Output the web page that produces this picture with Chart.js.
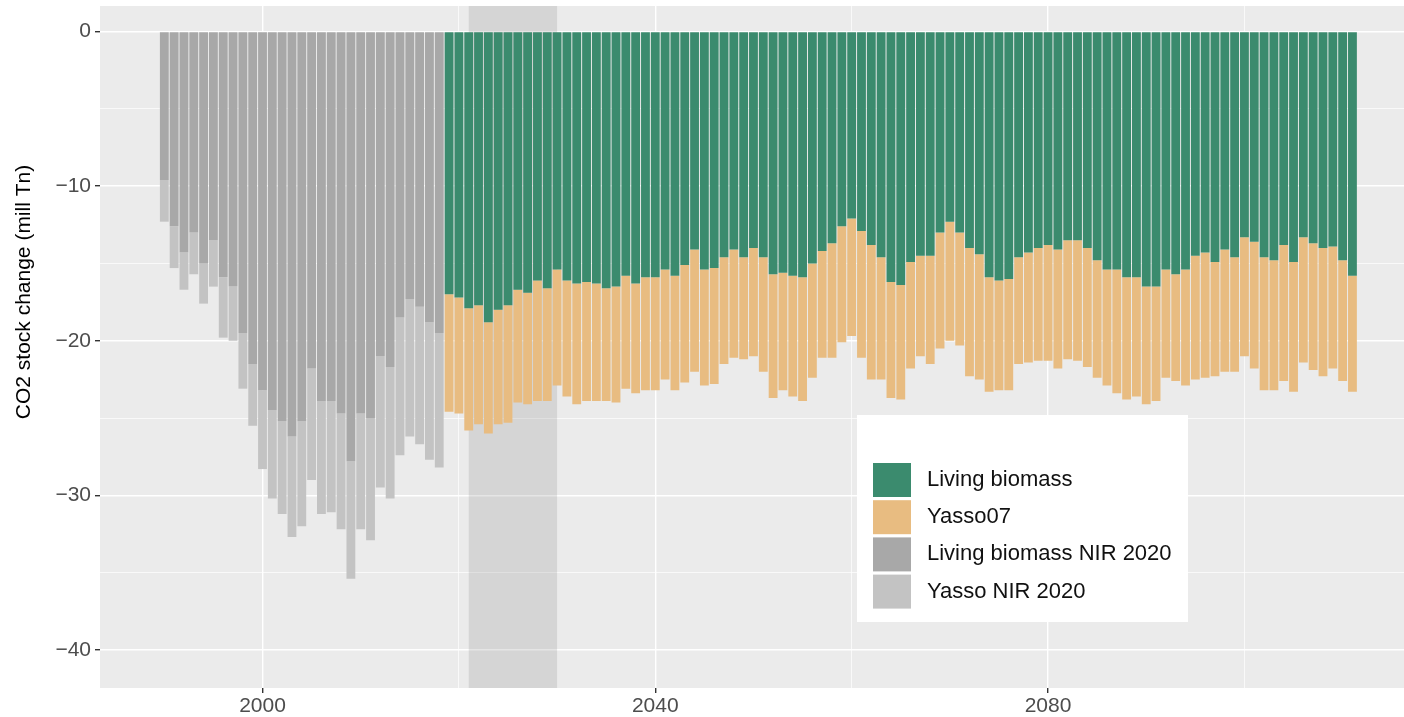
<!DOCTYPE html>
<html>
<head>
<meta charset="utf-8">
<title>CO2 stock change</title>
<script src="https://cdn.jsdelivr.net/npm/chart.js@4.4.1/dist/chart.umd.min.js"></script>
<style>
  html, body { margin: 0; padding: 0; background: #fff; overflow: hidden; }
  #wrap { position: relative; width: 1404px; height: 717px; }
</style>
</head>
<body>
<div id="wrap"><canvas id="chart" width="1404" height="717"></canvas></div>
<script>
// --- data (mill Tn CO2) ---
const nirYears = [1990,1991,1992,1993,1994,1995,1996,1997,1998,1999,
  2000,2001,2002,2003,2004,2005,2006,2007,2008,2009,
  2010,2011,2012,2013,2014,2015,2016,2017,2018];
const nirLivingBiomass = [-9.6,-12.6,-14.3,-13.0,-15.0,-13.5,-15.9,-16.5,-19.5,-21.5,
  -23.2,-24.5,-25.2,-26.2,-25.2,-21.8,-23.9,-23.9,-24.7,-27.8,
  -24.7,-25.0,-21.0,-21.7,-18.5,-17.3,-17.8,-18.8,-19.5];
const nirYasso = [-2.7,-2.7,-2.4,-2.7,-2.6,-3.0,-3.9,-3.5,-3.6,-4.0,
  -5.1,-5.7,-6.0,-6.5,-6.8,-7.2,-7.3,-7.2,-7.5,-7.6,
  -7.5,-7.9,-8.5,-8.5,-8.9,-8.9,-8.9,-8.9,-8.7];

const projYears = [2019,2020,2021,2022,2023,2024,2025,2026,2027,2028,
  2029,2030,2031,2032,2033,2034,2035,2036,2037,2038,
  2039,2040,2041,2042,2043,2044,2045,2046,2047,2048,
  2049,2050,2051,2052,2053,2054,2055,2056,2057,2058,
  2059,2060,2061,2062,2063,2064,2065,2066,2067,2068,
  2069,2070,2071,2072,2073,2074,2075,2076,2077,2078,
  2079,2080,2081,2082,2083,2084,2085,2086,2087,2088,
  2089,2090,2091,2092,2093,2094,2095,2096,2097,2098,
  2099,2100,2101,2102,2103,2104,2105,2106,2107,2108,
  2109,2110,2111];
const livingBiomass = [-17.0,-17.2,-17.9,-17.7,-18.8,-18.0,-17.7,-16.7,-16.9,-16.1,
  -16.6,-15.4,-16.1,-16.3,-16.2,-16.3,-16.6,-16.5,-15.8,-16.3,
  -15.9,-15.9,-15.4,-15.8,-15.1,-14.1,-15.4,-15.3,-14.6,-14.1,
  -14.6,-14.0,-14.6,-15.7,-15.6,-15.8,-15.9,-15.0,-14.2,-13.7,
  -12.6,-12.1,-12.9,-13.8,-14.6,-16.2,-16.4,-14.9,-14.5,-14.5,
  -13.0,-12.3,-13.0,-14.0,-14.4,-15.9,-16.1,-16.0,-14.6,-14.3,
  -14.0,-13.8,-14.1,-13.5,-13.5,-14.0,-14.8,-15.4,-15.4,-15.9,
  -15.9,-16.5,-16.5,-15.4,-15.7,-15.4,-14.5,-14.3,-14.9,-14.1,
  -14.6,-13.3,-13.6,-14.6,-14.8,-13.8,-14.9,-13.3,-13.7,-14.0,
  -13.9,-14.8,-15.8];
const yasso07 = [-7.6,-7.5,-7.9,-7.7,-7.2,-7.4,-7.6,-7.3,-7.2,-7.8,
  -7.3,-7.5,-7.5,-7.8,-7.7,-7.6,-7.3,-7.5,-7.3,-7.1,
  -7.3,-7.3,-7.1,-7.4,-7.6,-7.9,-7.5,-7.5,-6.9,-7.0,
  -6.6,-7.0,-7.4,-8.0,-7.6,-7.8,-8.0,-7.4,-6.9,-7.4,
  -7.5,-7.6,-8.2,-8.7,-7.9,-7.5,-7.4,-6.9,-6.5,-7.0,
  -7.5,-7.7,-7.3,-8.3,-8.1,-7.4,-7.1,-7.2,-6.9,-7.1,
  -7.3,-7.5,-7.7,-7.7,-7.8,-7.7,-7.6,-7.5,-8.0,-7.9,
  -7.7,-7.6,-7.4,-7.0,-6.9,-7.5,-8.0,-8.1,-7.4,-7.9,
  -7.4,-7.7,-8.2,-8.6,-8.4,-8.8,-8.4,-8.1,-8.2,-8.3,
  -7.9,-7.8,-7.5];

const xMajorTicks = [2000, 2040, 2080];
const xMinorTicks = [2020, 2060, 2100];
const yMajorTicks = [0, -10, -20, -30, -40];
const yMinorTicks = [-5, -15, -25, -35];
const shadeYears = [2021, 2030];

const FONT = '"Liberation Sans", Arial, Helvetica, sans-serif';
Chart.defaults.font.family = FONT;

function pts(xs, ys){ return xs.map((x,i)=>({x:x, y:ys[i]})); }
function minus(v){ return v < 0 ? '\u2212' + Math.abs(v) : String(v); }

// grey panel behind everything
const panelBg = {
  id: 'panelBg',
  beforeDraw(chart){
    const a = chart.chartArea, c = chart.ctx;
    c.save();
    c.fillStyle = '#ebebeb';
    c.fillRect(a.left, a.top, a.right - a.left, a.bottom - a.top);
    c.restore();
  }
};

// shaded period, on top of the grid but under the bars
const shade = {
  id: 'shade',
  beforeDatasetsDraw(chart){
    const a = chart.chartArea, c = chart.ctx, x = chart.scales.x;
    const x0 = x.getPixelForValue(shadeYears[0]);
    const x1 = x.getPixelForValue(shadeYears[1]);
    c.save();
    c.fillStyle = 'rgba(127,127,127,0.2)';
    c.fillRect(x0, a.top, x1 - x0, a.bottom - a.top);
    c.restore();
  }
};

// y title + boxed legend
const extras = {
  id: 'extras',
  afterDraw(chart){
    const c = chart.ctx;
    c.save();
    c.translate(24, 292);
    c.rotate(-Math.PI/2);
    c.fillStyle = '#000';
    c.font = '21px ' + FONT;
    c.textAlign = 'center';
    c.textBaseline = 'middle';
    c.fillText('CO2 stock change (mill Tn)', 0, 0);
    c.restore();

    const bx = 857, by = 415, bw = 331, bh = 207;
    c.save();
    c.fillStyle = '#ffffff';
    c.fillRect(bx, by, bw, bh);
    const ds = chart.data.datasets;
    let y = 463;
    c.font = '22px ' + FONT;
    c.textBaseline = 'middle';
    c.textAlign = 'left';
    ds.forEach(d => {
      c.fillStyle = d.backgroundColor;
      c.fillRect(873, y, 38, 34);
      c.fillStyle = '#111';
      c.fillText(d.label, 927, y + 17);
      y += 37.2;
    });
    c.restore();
  }
};

const isMajorX = v => xMajorTicks.includes(v);
const isMajorY = v => yMajorTicks.includes(v);

const chart = new Chart(document.getElementById('chart').getContext('2d'), {
  type: 'bar',
  data: {
    datasets: [
      { label: 'Living biomass', data: pts(projYears, livingBiomass), backgroundColor: '#3b8b6e' },
      { label: 'Yasso07', data: pts(projYears, yasso07), backgroundColor: '#e8bc81' },
      { label: 'Living biomass NIR 2020', data: pts(nirYears, nirLivingBiomass), backgroundColor: '#a8a8a8' },
      { label: 'Yasso NIR 2020', data: pts(nirYears, nirYasso), backgroundColor: '#c3c3c3' }
    ]
  },
  options: {
    responsive: false,
    animation: false,
    devicePixelRatio: 1,
    barPercentage: 0.9,
    categoryPercentage: 1.0,
    layout: { padding: { top: 6, left: 0, right: 0, bottom: 0 } },
    plugins: { legend: { display: false }, tooltip: { enabled: false } },
    scales: {
      x: {
        type: 'linear',
        stacked: true,
        offset: false,
        min: 1983.45,
        max: 2116.25,
        border: { display: false },
        grid: {
          offset: false,
          color: '#ffffff',
          lineWidth: ctx => isMajorX(ctx.tick.value) ? 1.4 : 0.7,
          tickColor: ctx => isMajorX(ctx.tick.value) ? '#333333' : 'rgba(0,0,0,0)',
          tickWidth: 1.4,
          tickLength: 5
        },
        ticks: {
          autoSkip: false,
          maxRotation: 0,
          padding: 1,
          color: '#4d4d4d',
          font: { size: 21 },
          callback: v => isMajorX(v) ? String(v) : ''
        },
        afterBuildTicks: s => { s.ticks = xMajorTicks.concat(xMinorTicks).map(v => ({ value: v })); },
        afterFit: s => { s.height = 29; }
      },
      y: {
        stacked: true,
        min: -42.46,
        max: 1.65,
        border: { display: false },
        grid: {
          color: '#ffffff',
          lineWidth: ctx => isMajorY(ctx.tick.value) ? 1.4 : 0.7,
          tickColor: ctx => isMajorY(ctx.tick.value) ? '#333333' : 'rgba(0,0,0,0)',
          tickWidth: 1.4,
          tickLength: 5
        },
        ticks: {
          autoSkip: false,
          padding: 4,
          color: '#4d4d4d',
          font: { size: 21, lineHeight: 0.05 },
          callback: v => isMajorY(v) ? minus(v) : ''
        },
        afterBuildTicks: s => { s.ticks = yMajorTicks.concat(yMinorTicks).map(v => ({ value: v })); },
        afterFit: s => { s.width = 100; }
      }
    }
  },
  plugins: [panelBg, shade, extras]
});
</script>
</body>
</html>
